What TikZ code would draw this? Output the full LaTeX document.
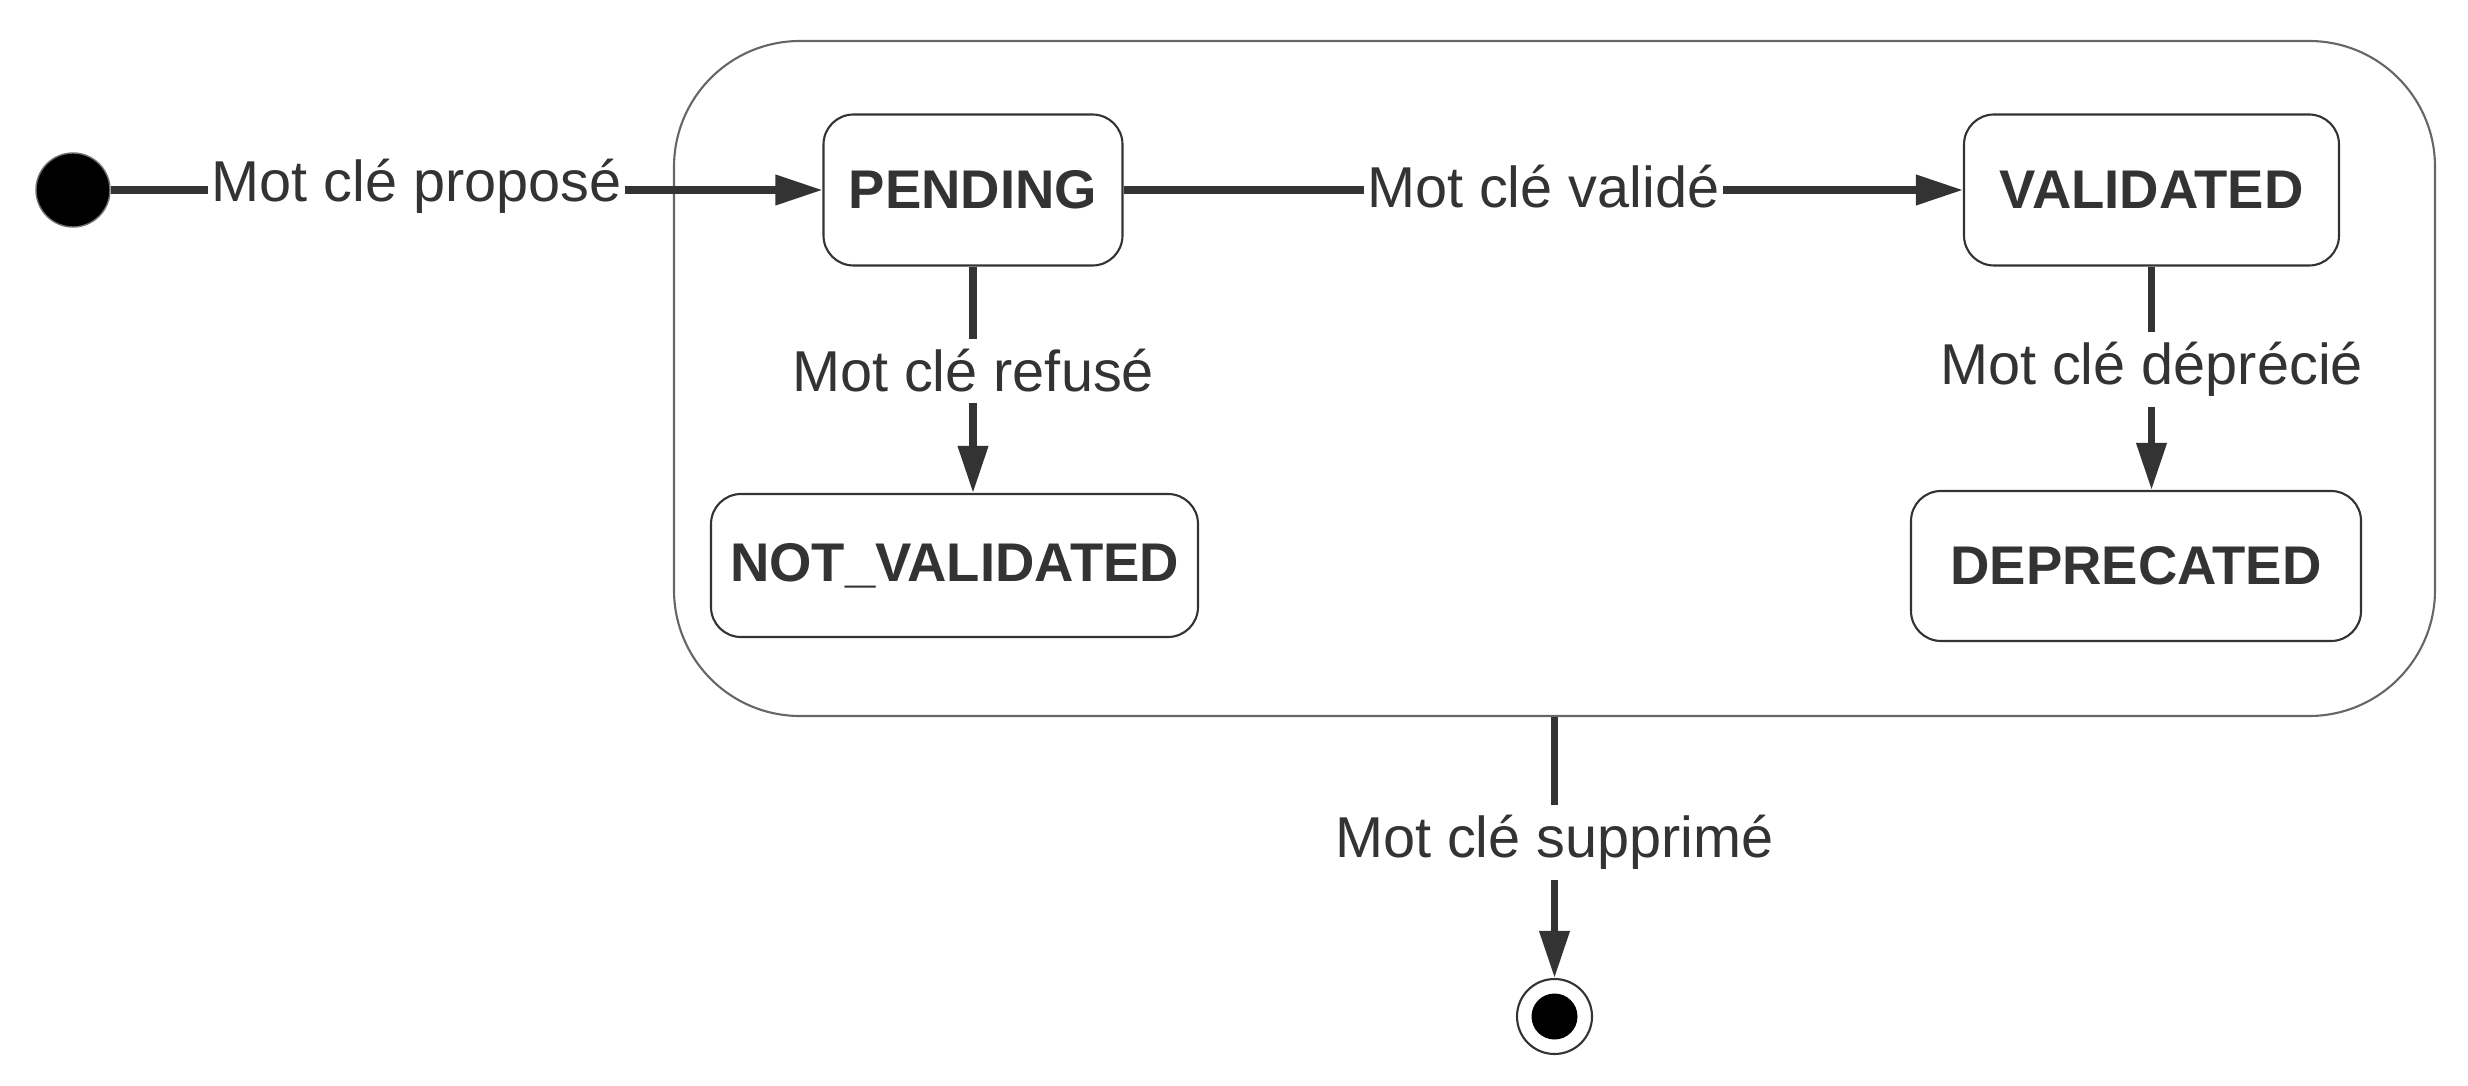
\documentclass[tikz,border=0pt]{standalone}
\usepackage{fontspec}
\setmainfont{Liberation Sans}
\usetikzlibrary{arrows.meta}
\definecolor{ink}{HTML}{333333}
\begin{document}
\begin{tikzpicture}[
  state/.style={draw=ink,line width=0.6pt,rounded corners=3mm,text=ink,inner sep=0pt,font=\fontsize{15.5}{18}\selectfont\bfseries},
  trans/.style={draw=ink,line width=2pt,-{Triangle[length=4.7mm,width=2.9mm]}},
  lbl/.style={fill=white,text=ink,inner xsep=1pt,inner ysep=3pt,font=\fontsize{16.4}{19}\selectfont}]
\useasboundingbox (0,0) rectangle (24.68,-10.86);
\node[draw=ink!75,line width=0.6pt,rounded corners=12.6mm,minimum width=17.61cm,minimum height=6.75cm](comp) at (15.545,-3.785){};
\node[circle,fill=black,draw=ink!70,inner sep=0pt,minimum size=7.4mm](init) at (0.73,-1.90){};
\node[state,minimum width=2.99cm,minimum height=1.51cm](pending) at (9.73,-1.90){PENDING};
\node[state,minimum width=3.75cm,minimum height=1.51cm](validated) at (21.515,-1.90){VALIDATED};
\node[state,minimum width=4.87cm,minimum height=1.43cm](notval) at (9.545,-5.655){NOT\_VALIDATED};
\node[state,minimum width=4.50cm,minimum height=1.50cm](deprecated) at (21.36,-5.66){DEPRECATED};
\node[circle,draw=ink,line width=0.6pt,inner sep=0pt,minimum size=7.5mm](fin) at (15.545,-10.165){};
\node[circle,fill=black,inner sep=0pt,minimum size=4.6mm](finin) at (fin){};
% transitions
\draw[trans] (init) -- node[lbl,pos=0.43,yshift=1pt]{Mot clé proposé} (pending);
\draw[trans] (pending) -- node[lbl,yshift=1pt]{Mot clé validé} (validated);
\draw[trans] (pending.south) -- node[lbl,pos=0.46]{Mot clé refusé} (pending.south |- notval.north);
\draw[trans] (validated.south) -- node[lbl,pos=0.46]{Mot clé déprécié} (validated.south |- deprecated.north);
\draw[trans] (comp.south) -- node[lbl,pos=0.48]{Mot clé supprimé} (fin);
\end{tikzpicture}
\end{document}
